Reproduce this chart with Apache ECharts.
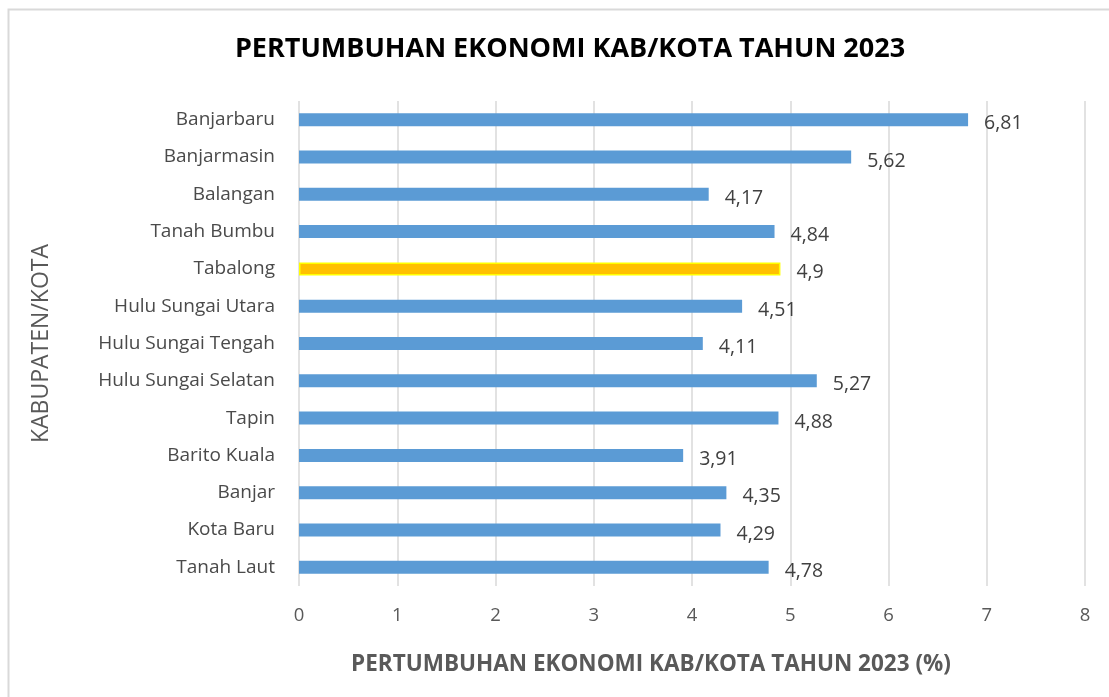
<!DOCTYPE html>
<html>
<head>
<meta charset="utf-8">
<script src="https://cdn.jsdelivr.net/npm/echarts@6/dist/echarts.min.js"></script>
<style>
  html, body { margin: 0; padding: 0; background: #fff; }
  #chart { width: 1109px; height: 697px; }
</style>
</head>
<body>
<div id="chart"></div>
<script>
// bottom-to-top order, as the category axis draws them
const regions = [
  "Tanah Laut", "Kota Baru", "Banjar", "Barito Kuala", "Tapin",
  "Hulu Sungai Selatan", "Hulu Sungai Tengah", "Hulu Sungai Utara",
  "Tabalong", "Tanah Bumbu", "Balangan", "Banjarmasin", "Banjarbaru"
];
const growth = [4.78, 4.29, 4.35, 3.91, 4.88, 5.27, 4.11, 4.51, 4.9, 4.84, 4.17, 5.62, 6.81];
const highlight = "Tabalong";

const font = "'Open Sans', 'Noto Sans', sans-serif";

const chart = echarts.init(document.getElementById("chart"));

chart.setOption({
  backgroundColor: "#fff",
  animation: false,
  graphic: [
    {
      type: "rect",
      shape: { x: 8.5, y: 9.5, width: 1120, height: 720 },
      style: { fill: "none", stroke: "#d9d9d9", lineWidth: 2 },
      silent: true
    }
  ],
  title: {
    text: "PERTUMBUHAN EKONOMI KAB/KOTA TAHUN 2023",
    left: 565,
    top: 31,
    textAlign: "center",
    textStyle: { fontFamily: font, fontSize: 27, fontWeight: "bold", color: "#000" }
  },
  grid: { left: 299, right: 24, top: 101, bottom: 111 },
  xAxis: {
    type: "value",
    min: 0,
    max: 8,
    interval: 1,
    name: "PERTUMBUHAN EKONOMI KAB/KOTA TAHUN 2023 (%)",
    nameLocation: "middle",
    nameGap: 67,
    nameTextStyle: {
      fontFamily: font, fontSize: 22.5, fontWeight: "bold", color: "#595959",
      padding: [0, 82, 0, 0]
    },
    axisLine: { show: false },
    axisTick: { show: false },
    axisLabel: { fontFamily: font, fontSize: 18.5, color: "#595959", margin: 20 },
    splitLine: { lineStyle: { color: "#d9d9d9", width: 1.5 } }
  },
  yAxis: {
    type: "category",
    data: regions,
    name: "KABUPATEN/KOTA",
    nameLocation: "middle",
    nameGap: 246,
    nameRotate: 90,
    nameTextStyle: { fontFamily: font, fontSize: 23, color: "#595959" },
    axisLine: { show: false },
    axisTick: { show: false },
    axisLabel: { fontFamily: font, fontSize: 19, color: "#4a4a4a", margin: 24 }
  },
  series: [
    {
      type: "bar",
      barWidth: 13,
      data: regions.map((name, i) => {
        const item = { value: growth[i] };
        if (name === highlight) {
          item.itemStyle = { color: "#FFC000", borderColor: "#FFFF00", borderWidth: 1.5 };
        }
        return item;
      }),
      itemStyle: { color: "#5B9BD5" },
      label: {
        show: true,
        position: "right",
        distance: 16,
        offset: [0, 4],
        fontFamily: font,
        fontSize: 19.5,
        color: "#404040",
        formatter: (p) => String(p.value).replace(".", ",")
      }
    }
  ]
});
</script>
</body>
</html>
